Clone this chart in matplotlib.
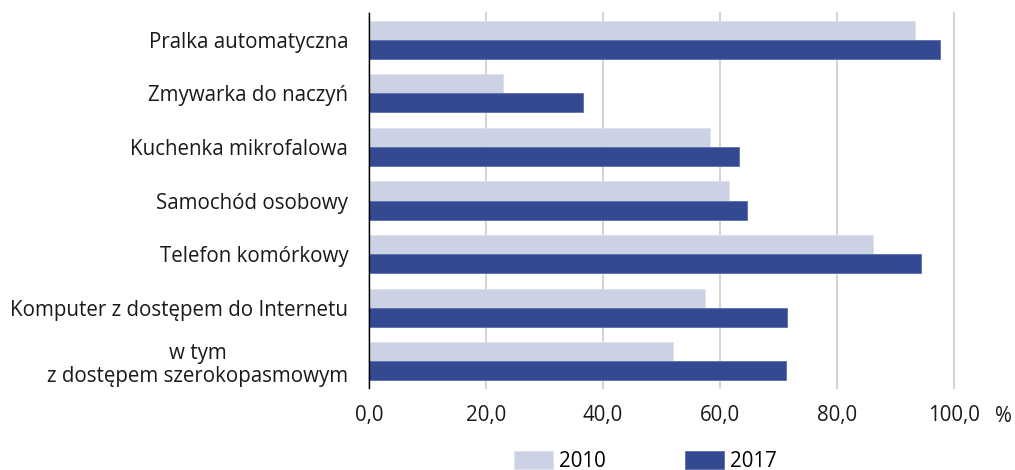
import matplotlib
matplotlib.use("Agg")
import matplotlib.pyplot as plt
import numpy as np

plt.rcParams['font.family'] = ['Open Sans', 'DejaVu Sans']

categories = ["Pralka automatyczna", "Zmywarka do naczyń", "Kuchenka mikrofalowa",
              "Samochód osobowy", "Telefon komórkowy", "Komputer z dostępem do Internetu",
              "w tym\nz dostępem szerokopasmowym"]
values_2010 = [93.4, 22.9, 58.3, 61.5, 86.1, 57.4, 51.9]
values_2017 = [97.6, 36.5, 63.2, 64.6, 94.3, 71.4, 71.2]
series_labels = ["2010", "2017"]
xticks = [0, 20, 40, 60, 80, 100]
xtick_labels = ["0,0", "20,0", "40,0", "60,0", "80,0", "100,0"]

c_light = "#ccd2e4"
c_dark = "#334a93"
fs = 14.8

fig = plt.figure(figsize=(10.15, 4.7), dpi=100)
ax = fig.add_axes([369/1015, 1-388/470, (954-369)/1015, (388-13)/470])

y = np.arange(len(categories))
h = 0.355
ax.barh(y - h/2, values_2010, height=h, color=c_light, edgecolor="#dde1ee", linewidth=0.6,
        label=series_labels[0], zorder=3)
ax.barh(y + h/2, values_2017, height=h, color=c_dark, edgecolor="#5a6fad", linewidth=0.6,
        label=series_labels[1], zorder=3)

ax.set_ylim(len(categories) - 0.5, -0.5)
ax.set_xlim(0, 100)
ax.set_yticks(y)
ax.set_yticklabels(categories, fontsize=fs, color="#1a1a1a", linespacing=1.15)
ax.set_xticks(xticks)
ax.set_xticklabels(xtick_labels, fontsize=fs, color="#1a1a1a")
ax.tick_params(axis='both', length=0)
ax.tick_params(axis='y', pad=15)
ax.tick_params(axis='x', pad=12)
for lbl in ax.get_yticklabels():
    lbl.set_horizontalalignment('right')
    lbl.set_multialignment('center')

ax.grid(axis='x', color="#cccccc", linewidth=1.2, zorder=0)
for gl in ax.get_xgridlines():
    gl.set_clip_on(False)
for s in ['top', 'right', 'bottom']:
    ax.spines[s].set_visible(False)
ax.spines['left'].set_color('black')
ax.spines['left'].set_linewidth(1)
ax.spines['left'].set_zorder(4)

fig.text(1003/1015, 1-416/470, "%", fontsize=fs, ha='center', va='center', color="#1a1a1a")

fig.legend(loc='upper left', bbox_to_anchor=(514/1015, 1-451/470), ncol=2, frameon=False,
           fontsize=fs, handlelength=1.9, handleheight=1.0, handletextpad=0.3,
           columnspacing=3.85, borderpad=0, borderaxespad=0)

fig.savefig("out.png", dpi=100)
